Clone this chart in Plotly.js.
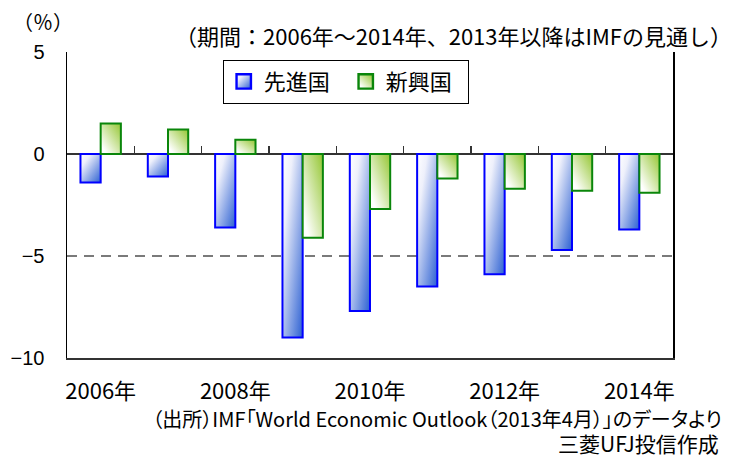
<!DOCTYPE html>
<html>
<head>
<meta charset="utf-8">
<script src="https://cdn.plot.ly/plotly-3.0.1.min.js"></script>
<style>
  html, body { margin: 0; padding: 0; background: #ffffff; }
  #chart { width: 738px; height: 457px; }
  .annotation[data-index="2"] text { font-feature-settings: "palt" 1; }
</style>
</head>
<body>
<div id="chart"></div>
<script>
// ---- data ----
var years = ['2006', '2007', '2008', '2009', '2010', '2011', '2012', '2013', '2014'];
var advanced = [-1.4, -1.1, -3.6, -9.0, -7.7, -6.5, -5.9, -4.7, -3.7];   // 先進国
var emerging = [1.5, 1.2, 0.7, -4.1, -2.7, -1.2, -1.7, -1.8, -1.9];      // 新興国
var seriesNames = ['先進国', '新興国'];
var tickYears = ['2006', '2008', '2010', '2012', '2014'];
var tickLabels = ['2006年', '2008年', '2010年', '2012年', '2014年'];
var yTicks = [5, 0, -5, -10];
var unitLabel = '（％）';
var periodNote = '（期間：2006年～2014年、2013年以降はIMFの見通し）';
var sourceNote1 = '（出所）IMF「World Economic Outlook（2013年4月）」のデータより';
var sourceNote2 = '三菱UFJ投信作成';

var JP = '"Noto Sans CJK JP", sans-serif';

var data = [
  {
    type: 'bar', name: seriesNames[0], x: years, y: advanced,
    marker: { color: '#7f9be6', line: { color: '#0000ff', width: 2 } },
    hoverinfo: 'x+y'
  },
  {
    type: 'bar', name: seriesNames[1], x: years, y: emerging,
    marker: { color: '#c8e29a', line: { color: '#0a860a', width: 2 } },
    hoverinfo: 'x+y'
  },
  // invisible helper trace carrying the category-boundary tick axis
  {
    type: 'scatter', x: [0], y: [0], xaxis: 'x2', yaxis: 'y',
    mode: 'markers', marker: { opacity: 0 }, showlegend: false, hoverinfo: 'skip'
  }
];

var boundaries = years.slice(0, -1).map(function (_, i) { return i + 0.5; });

var layout = {
  width: 738, height: 457,
  margin: { l: 67, r: 65, t: 52, b: 99, pad: 0 },
  paper_bgcolor: '#ffffff', plot_bgcolor: '#ffffff',
  barmode: 'group', bargap: 0.4, bargroupgap: 0,
  showlegend: true,
  legend: {
    orientation: 'h', x: 0.257, xanchor: 'left', y: 0.975, yanchor: 'top',
    entrywidth: 77, entrywidthmode: 'pixels',
    bgcolor: '#ffffff', bordercolor: '#000000', borderwidth: 1,
    font: { family: JP, size: 22, color: '#000000' }
  },
  xaxis: {
    type: 'category', categoryorder: 'array', categoryarray: years,
    tickmode: 'array', tickvals: tickYears, ticktext: tickLabels,
    ticks: '', ticklabelstandoff: 13,
    tickfont: { family: JP, size: 22, color: '#000000' },
    showline: true, linecolor: '#333333', linewidth: 1.5, mirror: false,
    showgrid: false, zeroline: false, fixedrange: true
  },
  xaxis2: {
    type: 'linear', overlaying: 'x', anchor: 'free', position: 10 / 15,
    range: [-0.5, years.length - 0.5],
    tickmode: 'array', tickvals: boundaries,
    ticks: 'inside', ticklen: 8, tickwidth: 1.5, tickcolor: '#333333',
    showticklabels: false, showgrid: false, zeroline: false, showline: false,
    fixedrange: true
  },
  yaxis: {
    range: [-10, 5], tickmode: 'array', tickvals: yTicks,
    ticks: '', ticklabelstandoff: 17,
    tickfont: { family: '"Liberation Sans", Arial, sans-serif', size: 20, color: '#000000' },
    showgrid: true, gridcolor: '#7a7a7a', gridwidth: 1.5, griddash: '10px,7px',
    zeroline: true, zerolinecolor: '#333333', zerolinewidth: 1.5,
    showline: true, linecolor: '#000000', linewidth: 1.5, mirror: true,
    fixedrange: true
  },
  annotations: [
    { text: unitLabel, xref: 'paper', yref: 'paper', x: -0.040, y: 1.101,
      xanchor: 'center', yanchor: 'middle', showarrow: false,
      font: { family: JP, size: 20, color: '#000000' } },
    { text: periodNote, xref: 'paper', yref: 'paper', x: 1.100, y: 1.054,
      xanchor: 'right', yanchor: 'middle', showarrow: false,
      font: { family: JP, size: 22, color: '#000000' } },
    { text: sourceNote1, xref: 'paper', yref: 'paper', x: 0.6110, y: -0.1993,
      xanchor: 'center', yanchor: 'middle', showarrow: false,
      font: { family: JP, size: 20, color: '#000000' } },
    { text: sourceNote2, xref: 'paper', yref: 'paper', x: 1.080, y: -0.278,
      xanchor: 'right', yanchor: 'middle', showarrow: false,
      font: { family: JP, size: 21, color: '#000000' } }
  ]
};

function applyGradients(gd) {
  var ns = 'http://www.w3.org/2000/svg';
  var svg = gd.querySelector('.main-svg');
  var defs = svg.querySelector('defs');
  if (!defs) { defs = document.createElementNS(ns, 'defs'); svg.insertBefore(defs, svg.firstChild); }
  function grad(id, x1, y1, x2, y2, stops) {
    var g = document.createElementNS(ns, 'linearGradient');
    g.setAttribute('id', id);
    g.setAttribute('x1', x1); g.setAttribute('y1', y1);
    g.setAttribute('x2', x2); g.setAttribute('y2', y2);
    stops.forEach(function (s) {
      var st = document.createElementNS(ns, 'stop');
      st.setAttribute('offset', s[0]);
      st.setAttribute('stop-color', s[1]);
      g.appendChild(st);
    });
    defs.appendChild(g);
  }
  grad('gradBlue', 0, 0, 1, 1, [[0, '#ffffff'], [0.25, '#eef0fb'], [1, '#2c60d2']]);
  grad('gradGreen', 1, 0, 0, 1, [[0, '#94c632'], [0.85, '#ffffff'], [1, '#ffffff']]);
  var ids = ['gradBlue', 'gradGreen'];
  var traces = gd.querySelectorAll('.barlayer .trace');
  traces.forEach(function (t, i) {
    t.querySelectorAll('.point path').forEach(function (p) {
      p.style.fill = 'url(#' + ids[i] + ')';
      p.style.fillOpacity = 1;
    });
  });
  var legTraces = gd.querySelectorAll('.legend .traces');
  legTraces.forEach(function (t, i) {
    t.querySelectorAll('.legendpoints path').forEach(function (p) {
      p.style.fill = 'url(#' + ids[i] + ')';
      p.style.fillOpacity = 1;
      var tr = p.getAttribute('transform') || '';
      p.setAttribute('transform', tr + ' scale(1.2)');
    });
  });
}

Plotly.newPlot('chart', data, layout, { displayModeBar: false, staticPlot: true })
  .then(applyGradients);
</script>
</body>
</html>
